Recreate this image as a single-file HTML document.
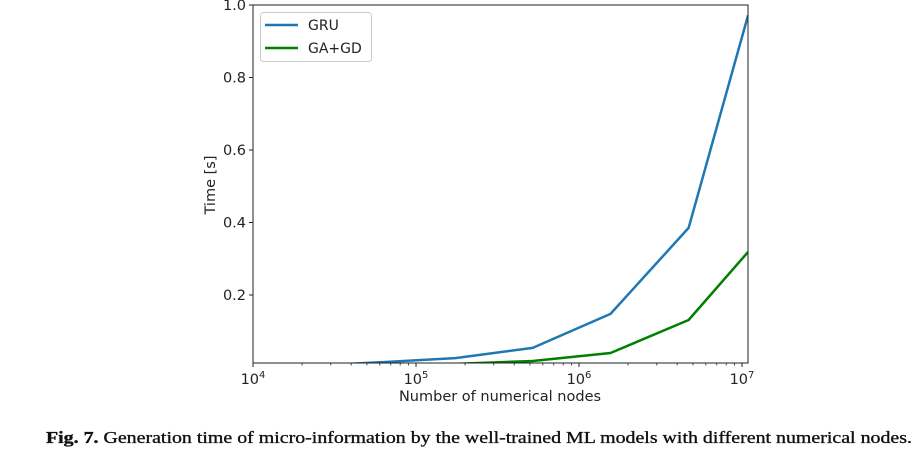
<!DOCTYPE html>
<html><head><meta charset="utf-8"><style>
html,body{margin:0;padding:0;background:#fff;}
svg{display:block;}
text{font-family:"DejaVu Sans","Liberation Sans",sans-serif;fill:#222;}
</style></head><body>
<svg id="chart" width="918" height="458" viewBox="0 0 918 458" xmlns="http://www.w3.org/2000/svg">
<defs><clipPath id="clip"><rect x="253" y="5" width="495" height="358"/></clipPath></defs>
<g id="axes"></g>
<g id="series" clip-path="url(#clip)"></g>
<rect x="253" y="5" width="495" height="358" fill="none" stroke="#222" stroke-width="1"/>
<g>
<rect x="260.5" y="12.5" width="111" height="49" rx="3" fill="#fff" stroke="#ccc"/>
<line x1="265" y1="25" x2="298" y2="25" stroke="#1f77b4" stroke-width="2.5"/>
<text x="308" y="30" font-size="14">GRU</text>
<line x1="265" y1="48" x2="298" y2="48" stroke="#008000" stroke-width="2.5"/>
<text x="308" y="53" font-size="14">GA+GD</text>
</g>
<text transform="translate(215,185) rotate(-90)" text-anchor="middle" font-size="14.5">Time [s]</text>
<text x="500" y="401" text-anchor="middle" font-size="14.5">Number of numerical nodes</text>
<text x="46" y="443" font-size="17" textLength="866" lengthAdjust="spacingAndGlyphs" style="font-family:'Liberation Serif',serif;fill:#111;stroke:#111;stroke-width:0.35"><tspan font-weight="bold">Fig. 7.</tspan> Generation time of micro-information by the well-trained ML models with different numerical nodes.</text>
</svg>
<script>
const nodes = [1.93e4, 5.8e4, 1.74e5, 5.2e5, 1.56e6, 4.7e6, 1.09e7];
const gruTime = [0.003, 0.014, 0.026, 0.054, 0.148, 0.385, 0.972];
const gagdTime = [0.001, 0.004, 0.010, 0.018, 0.040, 0.131, 0.319];
const yTicks = [0.2, 0.4, 0.6, 0.8, 1.0];
const yTickLabels = ["0.2", "0.4", "0.6", "0.8", "1.0"];
const xDecades = [4, 5, 6, 7];

const NS = "http://www.w3.org/2000/svg";
function xs(v){ return 253 + (Math.log10(v) - 4) * 163; }
function ys(v){ return 367.5 - v * 362.5; }
function mk(tag, attrs, parent){
  const e = document.createElementNS(NS, tag);
  for (const k in attrs) e.setAttribute(k, attrs[k]);
  parent.appendChild(e);
  return e;
}
const axes = document.getElementById('axes');
const series = document.getElementById('series');

yTicks.forEach((t, i) => {
  const y = ys(t);
  const tk = mk('line', {x1:249, x2:253, y1:y, y2:y, stroke:'#222'}, axes);
  
  
  const lb = mk('text', {x:246, y:y+5, 'text-anchor':'end', 'font-size':14.5}, axes);
  lb.textContent = yTickLabels[i];
  
  
});

xDecades.forEach((d, i) => {
  const x = xs(Math.pow(10, d));
  const tk = mk('line', {x1:x, x2:x, y1:363, y2:367, stroke:'#222'}, axes);
  
  
  const lb = mk('text', {x:x, y:384, 'text-anchor':'middle', 'font-size':14.5}, axes);
  lb.textContent = '10';
  const sp = mk('tspan', {dy:-6, 'font-size':10}, lb);
  sp.textContent = String(d);
  
  
  for (let m = 2; m <= 9; m++) {
    const mx = xs(m * Math.pow(10, d));
    if (mx > 748) break;
    const mt = mk('line', {x1:mx, x2:mx, y1:363, y2:365.5, stroke:'#222', 'stroke-width':0.8}, axes);
    
    
  }
});

function drawLine(vals, color, name){
  const pts = nodes.map((n, i) => xs(n).toFixed(1) + ',' + ys(vals[i]).toFixed(1)).join(' ');
  const pl = mk('polyline', {points:pts, fill:'none', stroke:color, 'stroke-width':2.5, 'stroke-linejoin':'round'}, series);
  
  
}
drawLine(gruTime, '#1f77b4', 'gru-line');
drawLine(gagdTime, '#008000', 'gagd-line');
</script>
</body></html>
